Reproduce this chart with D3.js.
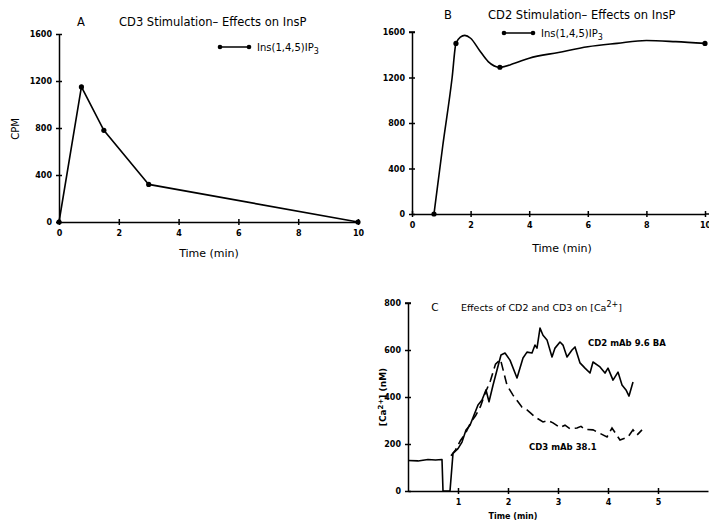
<!DOCTYPE html>
<html>
<head>
<meta charset="utf-8">
<script src="https://cdn.jsdelivr.net/npm/d3@7"></script>
<style>
  body { margin: 0; background: #fff; }
  svg { display: block; }
  text { font-family: "DejaVu Sans", sans-serif; fill: #000; }
  .tick text { font-size: 8px; font-weight: bold; }
  .axis path, .axis line { stroke: #000; stroke-width: 1.5; }
</style>
</head>
<body>
<svg id="chart" width="709" height="522"></svg>
<script>
// ---- panel A : CD3 stimulation, Ins(1,4,5)P3 ----
const timeA  = [0, 0.75, 1.5, 3, 10];
const insP3A = [0, 1150, 780, 320, 0];

// ---- panel B : CD2 stimulation, Ins(1,4,5)P3 ----
const timeB  = [0.75, 1.5, 3, 10];
const insP3B = [0, 1500, 1290, 1500];
// hand drawn curve through the points
const curveTimeB  = [0.75, 0.78, 1.05, 1.37, 1.5, 1.65, 1.8, 2.0, 2.3, 2.6, 3.0, 3.5, 4.0, 5.0, 6.0, 7.0, 8.0, 9.0, 10];
const curveValueB = [0, 60, 600, 1200, 1500, 1555, 1570, 1545, 1440, 1340, 1290, 1325, 1370, 1420, 1470, 1500, 1525, 1515, 1500];

const ticksAB_x = [0, 2, 4, 6, 8, 10];
const ticksAB_y = [0, 400, 800, 1200, 1600];

// ---- panel C : [Ca2+] traces ----
const cd2Time = [0, 0.2, 0.4, 0.55, 0.68, 0.7, 0.84, 0.9, 1.0, 1.08, 1.16, 1.24, 1.32, 1.4, 1.48, 1.56, 1.62, 1.7, 1.78, 1.86, 1.94, 2.04, 2.18, 2.3, 2.38, 2.48, 2.54, 2.58, 2.64, 2.7, 2.78, 2.88, 2.94, 3.04, 3.1, 3.18, 3.28, 3.34, 3.44, 3.54, 3.64, 3.7, 3.84, 3.94, 4.0, 4.1, 4.2, 4.28, 4.36, 4.42, 4.5];
const cd2Ca   = [130, 128, 134, 132, 134, 0, 0, 160, 180, 208, 260, 280, 323, 366, 387, 430, 380, 450, 515, 579, 587, 557, 481, 566, 591, 587, 621, 608, 693, 663, 643, 570, 608, 634, 621, 570, 600, 613, 545, 523, 502, 549, 528, 502, 523, 472, 506, 451, 430, 404, 464];
const cd3Time = [0.86, 0.95, 1.05, 1.15, 1.25, 1.35, 1.45, 1.55, 1.65, 1.75, 1.85, 1.98, 2.1, 2.2, 2.28, 2.38, 2.46, 2.54, 2.7, 2.8, 2.9, 3.04, 3.14, 3.24, 3.38, 3.46, 3.54, 3.7, 3.84, 3.98, 4.08, 4.24, 4.4, 4.5, 4.58, 4.68];
const cd3Ca   = [150, 175, 215, 245, 290, 320, 360, 420, 470, 540, 560, 450, 408, 380, 357, 345, 330, 315, 294, 300, 290, 270, 280, 265, 268, 275, 262, 260, 245, 230, 268, 217, 230, 260, 238, 260];

const ticksC_x = [1, 2, 3, 4, 5];
const ticksC_y = [0, 200, 400, 600, 800];

const svg = d3.select("#chart");
const zip = (a, b) => a.map((d, i) => [d, b[i]]);

function drawAxes(g, x, y, xt, yt) {
  g.append("g").attr("class", "axis")
    .attr("transform", "translate(0," + y.range()[0] + ")")
    .call(d3.axisBottom(x).tickValues(xt).tickSizeInner(3).tickSizeOuter(0).tickPadding(5).tickFormat(d3.format("d")))
    .call(a => a.selectAll(".tick line").attr("y1", -3));
  g.append("g").attr("class", "axis")
    .attr("transform", "translate(" + x.range()[0] + ",0)")
    .call(d3.axisLeft(y).tickValues(yt).tickSizeInner(3).tickSizeOuter(0).tickPadding(4).tickFormat(d3.format("d")))
    .call(a => a.selectAll(".tick line").attr("x1", 3));
}

// ================= A =================
const xA = d3.scaleLinear().domain([0, 10]).range([59, 358]);
const yA = d3.scaleLinear().domain([0, 1600]).range([222, 34]);
const gA = svg.append("g");
drawAxes(gA, xA, yA, ticksAB_x, ticksAB_y);

gA.append("path")
  .attr("d", d3.line().x(d => xA(d[0])).y(d => yA(d[1]))(zip(timeA, insP3A)))
  .attr("fill", "none").attr("stroke", "#000").attr("stroke-width", 1.6);
gA.selectAll("circle").data(zip(timeA, insP3A)).enter().append("circle")
  .attr("cx", d => xA(d[0])).attr("cy", d => yA(d[1])).attr("r", 2.6);

gA.append("text").attr("x", 81).attr("y", 26).attr("font-size", 11.5).attr("text-anchor", "middle").text("A");
gA.append("text").attr("x", 119).attr("y", 26).attr("font-size", 11.5).text("CD3 Stimulation\u2013 Effects on InsP");
gA.append("text").attr("x", 209).attr("y", 257).attr("font-size", 11).attr("text-anchor", "middle").text("Time (min)");
gA.append("text").attr("transform", "translate(19,129) rotate(-90)").attr("font-size", 10)
  .attr("text-anchor", "middle").text("CPM");

function legend(g, x0, y0) {
  g.append("line").attr("x1", x0).attr("x2", x0 + 29).attr("y1", y0).attr("y2", y0)
    .attr("stroke", "#000").attr("stroke-width", 1.5);
  g.selectAll(null).data([x0, x0 + 29]).enter().append("circle")
    .attr("cx", d => d).attr("cy", y0).attr("r", 2.3);
  const t = g.append("text").attr("x", x0 + 37).attr("y", y0 + 4).attr("font-size", 10);
  t.append("tspan").text("Ins(1,4,5)IP");
  t.append("tspan").attr("dy", 3).attr("font-size", 8).text("3");
}
legend(gA, 220, 47);

// ================= B =================
const xB = d3.scaleLinear().domain([0, 10]).range([412, 705]);
const yB = d3.scaleLinear().domain([0, 1600]).range([214, 32]);
const gB = svg.append("g");
drawAxes(gB, xB, yB, ticksAB_x, ticksAB_y);
gB.append("line").attr("x1", xB(10)).attr("x2", 712).attr("y1", yB(0)).attr("y2", yB(0))
  .attr("stroke", "#000").attr("stroke-width", 1.5);
gB.append("line").attr("x1", xB(0) - 3).attr("x2", xB(0) + 3).attr("y1", yB(1600)).attr("y2", yB(1600))
  .attr("stroke", "#000").attr("stroke-width", 1.5);

gB.append("path")
  .attr("d", d3.line().curve(d3.curveMonotoneX).x(d => xB(d[0])).y(d => yB(d[1]))(zip(curveTimeB, curveValueB)))
  .attr("fill", "none").attr("stroke", "#000").attr("stroke-width", 1.6);
gB.selectAll("circle.pt").data(zip(timeB, insP3B)).enter().append("circle").attr("class", "pt")
  .attr("cx", d => xB(d[0])).attr("cy", d => yB(d[1])).attr("r", 2.6);

gB.append("text").attr("x", 448).attr("y", 19).attr("font-size", 11.5).attr("text-anchor", "middle").text("B");
gB.append("text").attr("x", 488).attr("y", 19).attr("font-size", 11.5).text("CD2 Stimulation\u2013 Effects on InsP");
gB.append("text").attr("x", 562).attr("y", 252).attr("font-size", 11).attr("text-anchor", "middle").text("Time (min)");
legend(gB, 504, 33);

// ================= C =================
const xC = d3.scaleLinear().domain([0, 6]).range([408, 708]);
const yC = d3.scaleLinear().domain([0, 800]).range([491, 303]);
const gC = svg.append("g");
drawAxes(gC, xC, yC, ticksC_x, ticksC_y);
gC.append("line").attr("x1", xC(0) - 3).attr("x2", xC(0) + 3).attr("y1", yC(800)).attr("y2", yC(800))
  .attr("stroke", "#000").attr("stroke-width", 1.5);

gC.append("path")
  .attr("d", d3.line().x(d => xC(d[0])).y(d => yC(d[1]))(zip(cd2Time, cd2Ca)))
  .attr("fill", "none").attr("stroke", "#000").attr("stroke-width", 1.6).attr("stroke-linejoin", "round");
gC.append("path")
  .attr("d", d3.line().x(d => xC(d[0])).y(d => yC(d[1]))(zip(cd3Time, cd3Ca)))
  .attr("fill", "none").attr("stroke", "#000").attr("stroke-width", 1.6)
  .attr("stroke-dasharray", "9,5");

gC.append("text").attr("x", 435).attr("y", 311).attr("font-size", 10.5).attr("text-anchor", "middle").text("C");
const tc = gC.append("text").attr("x", 461).attr("y", 311).attr("font-size", 9.5);
tc.append("tspan").text("Effects of CD2 and CD3 on [Ca");
tc.append("tspan").attr("dy", -4).attr("font-size", 8).text("2+");
tc.append("tspan").attr("dy", 4).text("]");

gC.append("text").attr("x", 588).attr("y", 346).attr("font-size", 8.5).attr("font-weight", "bold").text("CD2 mAb 9.6 BA");
gC.append("text").attr("x", 529).attr("y", 450).attr("font-size", 8.5).attr("font-weight", "bold").text("CD3 mAb 38.1");
gC.append("text").attr("x", 513).attr("y", 519).attr("font-size", 8).attr("font-weight", "bold")
  .attr("text-anchor", "middle").text("Time (min)");
const yl = gC.append("text").attr("transform", "translate(386,397) rotate(-90)").attr("font-size", 9)
  .attr("font-weight", "bold").attr("text-anchor", "middle");
yl.append("tspan").text("[Ca");
yl.append("tspan").attr("dy", -3).attr("font-size", 7).text("2+");
yl.append("tspan").attr("dy", 3).text("] (nM)");
</script>
</body>
</html>
